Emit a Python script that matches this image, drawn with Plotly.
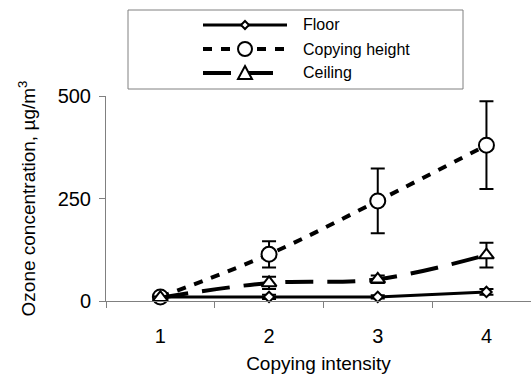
import plotly.graph_objects as go

categories = [1, 2, 3, 4]
floor_vals = [10, 10, 10, 22]
floor_err = [3, 5, 4, 7]
copy_vals = [10, 114, 244, 380]
copy_err = [4, 32, 79, 107]
ceil_vals = [8, 44, 53, 112]
ceil_err = [3, 15, 9, 30]
y_ticks = [0, 250, 500]

W, H = 531, 374
L, R, T, B = 106, 0, 96, 73
PW, PH = W - L - R, H - T - B

def px(x):
    return (x - L) / PW

def py(y):
    return (H - B - y) / PH

FONT = "Liberation Sans, Arial, sans-serif"

fig = go.Figure()

series = [
    ("Floor", floor_vals, floor_err, dict(color="black", width=3), "linear",
     dict(symbol="diamond", size=8, color="white", line=dict(color="black", width=2))),
    ("Copying height", copy_vals, copy_err, dict(color="black", width=4, dash="9px,9px"), "spline",
     dict(symbol="circle", size=15, color="white", line=dict(color="black", width=2))),
    ("Ceiling", ceil_vals, ceil_err, dict(color="black", width=4, dash="28px,14px"), "spline",
     dict(symbol="triangle-up", size=13, color="white", line=dict(color="black", width=2))),
]
for name, vals, err, line, shape, marker in series:
    line = dict(line)
    line["shape"] = shape
    fig.add_trace(go.Scatter(
        x=categories, y=vals, name=name, mode="lines+markers",
        line=line, marker=marker, showlegend=False, cliponaxis=False,
        error_y=dict(type="data", array=err, visible=True, color="black",
                     thickness=2, width=7),
    ))

# Manual legend (box, sample lines, symbols, text)
shapes = [dict(type="rect", xref="paper", yref="paper",
               x0=px(128), x1=px(463), y0=py(10), y1=py(89),
               line=dict(color="#808080", width=1), fillcolor="white", layer="below")]
annotations = []
rows = [25, 49, 73]
for (name, vals, err, line, shape, marker), ry in zip(series, rows):
    ln = dict(color="black", width=line["width"])
    if "dash" in line:
        ln["dash"] = line["dash"]
    shapes.append(dict(type="line", xref="paper", yref="paper",
                       x0=px(203), x1=px(287), y0=py(ry), y1=py(ry), line=ln))
    cx = 245
    if marker["symbol"] == "circle":
        r = 7
        shapes.append(dict(type="circle", xref="paper", yref="paper",
                           x0=px(cx - r), x1=px(cx + r), y0=py(ry + r), y1=py(ry - r),
                           fillcolor="white", line=dict(color="black", width=2)))
    elif marker["symbol"] == "diamond":
        r = 4
        pts = [(cx, ry - r), (cx + r, ry), (cx, ry + r), (cx - r, ry)]
        path = "M" + " L".join(f"{px(a)},{py(b)}" for a, b in pts) + " Z"
        shapes.append(dict(type="path", xref="paper", yref="paper", path=path,
                           fillcolor="white", line=dict(color="black", width=2)))
    else:
        r = 7
        pts = [(cx, ry - r), (cx + r, ry + r - 1), (cx - r, ry + r - 1)]
        path = "M" + " L".join(f"{px(a)},{py(b)}" for a, b in pts) + " Z"
        shapes.append(dict(type="path", xref="paper", yref="paper", path=path,
                           fillcolor="white", line=dict(color="black", width=2)))
    annotations.append(dict(text=name, xref="paper", yref="paper", x=px(301), y=py(ry),
                            xanchor="left", yanchor="middle", showarrow=False,
                            font=dict(family=FONT, size=16, color="black")))

fig.update_layout(
    width=W, height=H,
    margin=dict(l=L, r=R, t=T, b=B, pad=0),
    paper_bgcolor="white", plot_bgcolor="white",
    font=dict(family=FONT, size=19, color="black"),
    shapes=shapes, annotations=annotations,
    xaxis=dict(
        range=[0.5, 0.5 + PW / 108.7],
        tickmode="array", tickvals=categories, ticktext=[str(c) for c in categories],
        ticks="", showgrid=False, zeroline=False,
        showline=True, linecolor="#808080", linewidth=1,
        ticklabelstandoff=17, tickfont=dict(size=20),
        minor=dict(tickmode="linear", tick0=0.5, dtick=1, ticks="outside",
                   ticklen=6, tickcolor="#808080", tickwidth=1, showgrid=False),
        title=dict(text="Copying intensity", font=dict(size=19), standoff=14),
    ),
    yaxis=dict(
        range=[0, 500], tickmode="array", tickvals=y_ticks,
        ticks="outside", ticklen=6, tickcolor="#808080", tickwidth=1,
        showgrid=False, zeroline=False,
        showline=True, linecolor="#808080", linewidth=1,
        ticklabelstandoff=4, tickfont=dict(size=20),
        title=dict(text="Ozone concentration, µg/m<sup>3</sup>", font=dict(size=19), standoff=16),
    ),
)

fig.write_html("out.html")
